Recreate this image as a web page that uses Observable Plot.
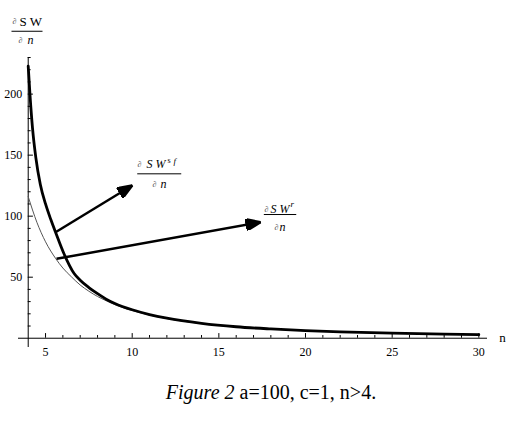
<!DOCTYPE html>
<html>
<head>
<meta charset="utf-8">
<script src="https://cdn.jsdelivr.net/npm/d3@7"></script>
<script src="https://cdn.jsdelivr.net/npm/@observablehq/plot@0.6"></script>
<style>
  html, body { margin: 0; padding: 0; background: #fff; }
  #chart svg { display: block; font-family: "Liberation Serif", serif !important; }
  #chart svg text, #chart svg g { font-family: "Liberation Serif", serif !important; }
  #chart svg g.it text { font-style: italic !important; }
  #caption {
    width: 482px; padding-left: 30px; margin-top: 15px;
    text-align: center; font-family: "Liberation Serif", serif;
    font-size: 20px; line-height: 24px; color: #000;
  }
</style>
</head>
<body>
<div id="chart"></div>
<div id="caption"><i>Figure 2</i> a=100, c=1, n&gt;4.</div>
<script>
// thick curve: ∂SW^{sf}/∂n
const nF  = [4, 4.1, 4.25, 4.44, 4.7, 5, 5.31, 5.6, 6.04, 6.65, 7, 7.5, 8, 8.5, 9, 10, 11, 12, 14, 16, 18, 20, 22, 25, 28, 30];
const swF = [223, 200, 172, 148, 126, 110, 97, 86, 70, 53, 47.5, 41.5, 36.5, 32, 28.5, 23.3, 19.4, 16.4, 12.2, 9.4, 7.6, 6.2, 5.2, 4.1, 3.3, 2.9];
// thin curve: ∂SW^{r}/∂n
const nR  = [4, 4.5, 5, 5.6, 6, 6.5, 7, 7.5, 8, 8.5, 9, 10, 11, 12, 14, 16, 18, 20, 22, 25, 28, 30];
const swR = [116, 95, 79, 65, 57.5, 50.2, 43.6, 38.5, 34.2, 30.7, 27.5, 22.7, 19, 16.1, 12, 9.3, 7.5, 6.1, 5.1, 4, 3.2, 2.8];

const xMajor = [5, 10, 15, 20, 25, 30];
const xMinor = d3.range(5, 31).filter(v => v % 5 !== 0);
const yMajor = [50, 100, 150, 200];
const yMinor = [10,20,30,40,60,70,80,90,110,120,130,140,160,170,180,190,210,220,230];

// annotation arrows (from curve point to label)
const arrows = [
  {x1: 5.575, y1: 86.85, x2: 10.0, y2: 125.1},
  {x1: 5.633, y1: 65.05, x2: 17.40, y2: 95.04}
];
// fraction bars
const bars = [
  {x1: 3.036, x2: 4.825, y: 251.5},
  {x1: 10.29, x2: 12.83, y: 134.7},
  {x1: 17.595, x2: 19.465, y: 101.35}
];
// label pieces
const partials = [
  {x: 3.094, y: 259.5}, {x: 3.44, y: 243.9},
  {x: 10.307, y: 142.3}, {x: 11.17, y: 126.3},
  {x: 17.635, y: 105.9}, {x: 18.21, y: 90.7}
];
const romanParts = [{x: 3.498, y: 259.5, t: "S W"}];
const italicParts = [
  {x: 3.96, y: 243.9, t: "n"},
  {x: 10.826, y: 142.3, t: "S W"}, {x: 11.63, y: 126.3, t: "n"},
  {x: 17.98, y: 105.9, t: "S W"}, {x: 18.5, y: 90.7, t: "n"}
];
const supParts = [
  {x: 12.038, y: 145.3, t: "s", it: false},
  {x: 12.384, y: 145.3, t: "f", it: true},
  {x: 19.135, y: 109.6, t: "r", it: true}
];
const axisLabelN = [{x: 31.37, y: 0, t: "n"}];

const curveF = nF.map((n, i) => ({n, v: swF[i]}));
const curveR = nR.map((n, i) => ({n, v: swR[i]}));

const FONT = "Liberation Serif";

function arrowHead(color) {
  return d3.create("svg:marker")
    .attr("viewBox", "-15 -6 16 12")
    .attr("markerWidth", 16).attr("markerHeight", 12)
    .attr("markerUnits", "userSpaceOnUse")
    .attr("refX", 0).attr("refY", 0)
    .attr("orient", "auto")
    .call(m => m.append("path").attr("d", "M0,0L-14,-5.5L-14,5.5Z").attr("fill", color))
    .node();
}

const chart = Plot.plot({
  width: 512, height: 365,
  marginLeft: 18, marginRight: 25, marginTop: 57, marginBottom: 18,
  x: {domain: [3.44, 30.5], axis: null},
  y: {domain: [-7.6, 230], axis: null},
  style: {fontFamily: FONT, background: "#fff", color: "#000"},
  marks: [
    Plot.ruleY([0], {stroke: "#000", strokeWidth: 1}),
    Plot.ruleX([4], {stroke: "#000", strokeWidth: 1}),
    Plot.ruleX(xMajor, {x: d => d, y1: 0, y2: 3.8, stroke: "#000"}),
    Plot.ruleX(xMinor, {x: d => d, y1: 0, y2: 2.2, stroke: "#000"}),
    Plot.ruleY(yMajor, {y: d => d, x1: 4, x2: 4.3, stroke: "#000"}),
    Plot.ruleY(yMinor, {y: d => d, x1: 4, x2: 4.17, stroke: "#000"}),
    Plot.text(xMajor, {x: d => d, y: 0, dy: 13.5, text: d => String(d), fontSize: 12, fontFamily: FONT, fill: "#000"}),
    Plot.text(yMajor, {x: 4, y: d => d, dx: -6, text: d => String(d), textAnchor: "end", fontSize: 12, fontFamily: FONT, fill: "#000"}),
    Plot.text(axisLabelN, {x: "x", y: "y", text: "t", fontSize: 13, fontFamily: FONT, fill: "#000"}),
    Plot.line(curveR, {x: "n", y: "v", stroke: "#555", strokeWidth: 1, curve: "monotone-x"}),
    Plot.line(curveF, {x: "n", y: "v", stroke: "#000", strokeWidth: 2.8, curve: "monotone-x"}),
    Plot.link(arrows, {x1: "x1", y1: "y1", x2: "x2", y2: "y2", stroke: "#000", strokeWidth: 2.5, markerEnd: arrowHead}),
    Plot.link(bars, {x1: "x1", x2: "x2", y1: "y", y2: "y", stroke: "#000", strokeWidth: 1}),
    Plot.text(partials, {x: "x", y: "y", text: () => "∂", textAnchor: "start", fontSize: 8, fontFamily: FONT, fill: "#555"}),
    Plot.text(romanParts, {x: "x", y: "y", text: "t", textAnchor: "start", fontSize: 13, fontFamily: FONT, fill: "#000"}),
    Plot.text(italicParts, {x: "x", y: "y", text: "t", textAnchor: "start", fontSize: 12, fontStyle: "italic", fontFamily: FONT, fill: "#000", className: "it"}),
    Plot.text(supParts.filter(d => !d.it), {x: "x", y: "y", text: "t", textAnchor: "start", fontSize: 8, fontFamily: FONT, fill: "#000"}),
    Plot.text(supParts.filter(d => d.it), {x: "x", y: "y", text: "t", textAnchor: "start", fontSize: 9, fontStyle: "italic", fontFamily: FONT, fill: "#000", className: "it"})
  ]
});
document.getElementById("chart").appendChild(chart);
</script>
</body>
</html>
